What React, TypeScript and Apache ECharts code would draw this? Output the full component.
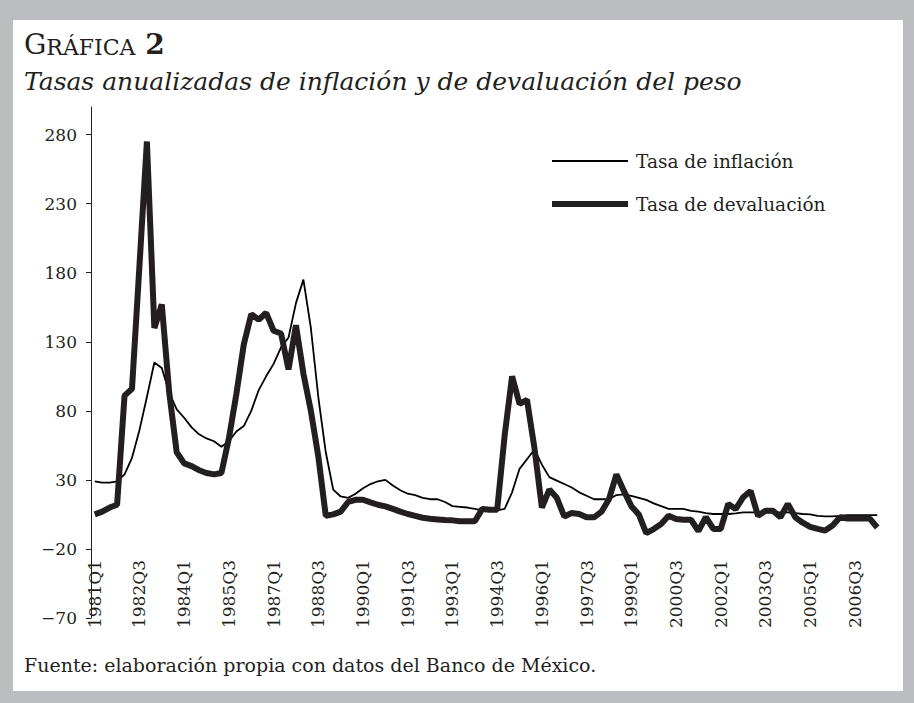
import React, { useEffect, useRef } from 'react';
import * as echarts from 'echarts';

// Quarterly categories 1981Q1 .. 2007Q2
const years = [1981, 1982, 1983, 1984, 1985, 1986, 1987, 1988, 1989, 1990, 1991, 1992, 1993, 1994,
  1995, 1996, 1997, 1998, 1999, 2000, 2001, 2002, 2003, 2004, 2005, 2006, 2007];
const quarterNames = ['Q1', 'Q2', 'Q3', 'Q4'];
const categories: string[] = [];
years.forEach((y) => quarterNames.forEach((q) => categories.push(`${y}${q}`)));
categories.splice(106);

const inflacion = [
  29, 28, 28, 29, 34, 46, 66, 90, 115, 111,
  93, 81, 75, 68, 63, 60, 58, 54, 58, 65,
  69, 80, 95, 105, 114, 126, 133, 158, 175, 140,
  90, 50, 23, 18, 17, 20, 24, 27, 29, 30,
  26, 22.5, 20, 19, 17, 16, 16, 14, 11, 10.5,
  10, 9, 8, 8, 8, 9, 21, 38, 45, 52,
  41, 32, 29.5, 27, 24.5, 21, 18.5, 16, 16, 16,
  19, 19.5, 18.5, 17, 15.5, 13, 11, 9, 9, 9,
  7.5, 7, 6, 5.3, 5.3, 5.3, 5.8, 6.5, 6.5, 6.5,
  6.5, 6.5, 6.5, 6.5, 6, 5.3, 5, 4, 3.6, 3.6,
  4, 4.5, 4.5, 4.5, 4.5, 4.5,
];

const devaluacion = [
  5, 7, 10, 12, 91, 96, 185, 275, 140, 157,
  93, 50, 42, 40, 37, 35, 34, 35, 60, 92,
  128, 150, 146, 151, 138, 136, 110, 142, 107, 80,
  47, 4, 5, 7, 14, 15.6, 15.6, 13.7, 12, 10.8,
  9, 7, 5.3, 4, 2.6, 1.9, 1.4, 0.9, 0.7, 0,
  0, 0, 9, 8.4, 8.4, 62, 105, 85, 88, 53,
  10, 23, 17, 3.5, 6, 5.3, 2.9, 2.9, 7, 16,
  34, 22, 11, 5, -8.5, -5.6, -2, 4, 1.7, 1.2,
  1.2, -7, 3, -5.5, -5.5, 12.6, 8.9, 17.4, 22, 4,
  7.7, 7.7, 3, 12.6, 2.9, -1, -4, -5.5, -6.7, -3,
  3, 2, 2, 2, 2, -4.5,
];

const yTicks = [-70, -20, 30, 80, 130, 180, 230, 280];

const seriesNames = ['Tasa de inflación', 'Tasa de devaluación'];
const titleLabel = 'RÁFICA';
const subtitle = 'Tasas anualizadas de inflación y de devaluación del peso';
const source = 'Fuente: elaboración propia con datos del Banco de México.';

const FONT = '"DejaVu Serif", "Liberation Serif", serif';
const INK = '#231f20';

export default function App() {
  const ref = useRef<HTMLDivElement>(null);
  useEffect(() => {
    const chart = echarts.init(ref.current as HTMLDivElement, null, { renderer: 'svg' });
    chart.setOption({
      animation: false,
      backgroundColor: 'transparent',
      grid: { left: 91, right: 33, top: 107, bottom: 85 },
      xAxis: {
        type: 'category',
        data: categories,
        boundaryGap: true,
        axisLine: { show: false, onZero: false },
        axisTick: { show: false },
        splitLine: { show: false },
        axisLabel: {
          interval: 5,
          rotate: 90,
          margin: -58,
          fontFamily: FONT,
          fontSize: 17,
          color: INK,
        },
      },
      yAxis: {
        type: 'value',
        min: -70,
        max: 300,
        interval: 50,
        splitLine: { show: false },
        axisLine: { show: true, lineStyle: { color: INK, width: 1 } },
        axisTick: { show: true, length: 5, lineStyle: { color: INK }, customValues: yTicks },
        axisLabel: {
          customValues: yTicks,
          margin: 14,
          fontFamily: FONT,
          fontSize: 17,
          color: INK,
          formatter: (v: number) => (v === 300 ? '' : v < 0 ? '\u2212' + Math.abs(v) : String(v)),
        },
      },
      series: [
        {
          name: seriesNames[0],
          type: 'line',
          data: inflacion,
          symbol: 'none',
          lineStyle: { color: '#000000', width: 1.8 },
          z: 2,
        },
        {
          name: seriesNames[1],
          type: 'line',
          data: devaluacion,
          symbol: 'none',
          lineStyle: { color: INK, width: 6, join: 'bevel', cap: 'butt' },
          z: 3,
        },
      ],
      graphic: [
        {
          type: 'text',
          x: 24,
          y: 44,
          style: {
            text: '{g|G}{s|' + titleLabel + '}{b| 2}',
            verticalAlign: 'middle',
            rich: {
              g: { fontFamily: FONT, fontSize: 28, fill: INK, color: INK, verticalAlign: 'bottom' },
              s: { fontFamily: FONT, fontSize: 22, fill: INK, color: INK, verticalAlign: 'bottom' },
              b: { fontFamily: FONT, fontSize: 28, fontWeight: 'bold', fill: INK, color: INK, verticalAlign: 'bottom' },
            },
          },
        },
        {
          type: 'text',
          x: 24,
          y: 81,
          style: {
            text: subtitle,
            font: `italic 25px ${FONT}`,
            fill: INK,
            verticalAlign: 'middle',
          },
        },
        {
          type: 'line',
          shape: { x1: 552, y1: 161, x2: 628, y2: 161 },
          style: { stroke: '#000000', lineWidth: 1.8 },
        },
        {
          type: 'line',
          shape: { x1: 552, y1: 204, x2: 628, y2: 204 },
          style: { stroke: INK, lineWidth: 6 },
        },
        {
          type: 'text',
          x: 636,
          y: 161,
          style: { text: seriesNames[0], font: `18.5px ${FONT}`, fill: INK, verticalAlign: 'middle' },
        },
        {
          type: 'text',
          x: 636,
          y: 204,
          style: { text: seriesNames[1], font: `18.5px ${FONT}`, fill: INK, verticalAlign: 'middle' },
        },
        {
          type: 'text',
          x: 24,
          y: 665,
          style: { text: source, font: `19px ${FONT}`, fill: INK, verticalAlign: 'middle' },
        },
      ],
    });
    return () => chart.dispose();
  }, []);

  return (
    <div style={{ position: 'fixed', left: 0, top: 0, width: 914, height: 703, background: '#bcbdc0' }}>
      <div style={{ position: 'absolute', left: 13, top: 20, width: 890, height: 671, background: '#ffffff' }} />
      <div ref={ref} style={{ position: 'absolute', left: 0, top: 0, width: 914, height: 703 }} />
    </div>
  );
}
